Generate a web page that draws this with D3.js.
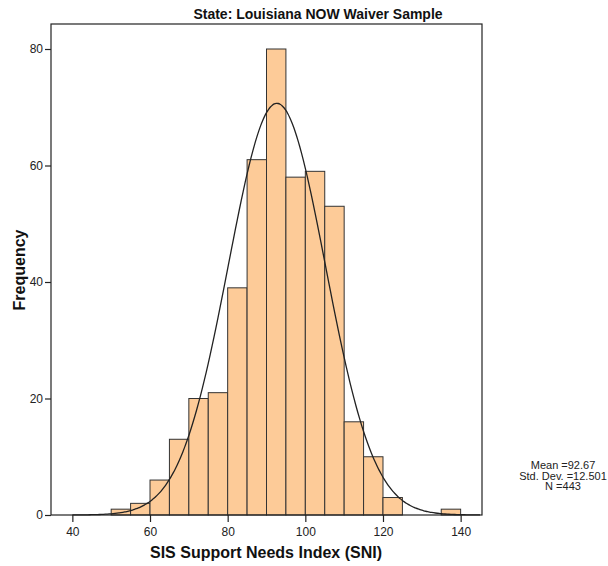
<!DOCTYPE html>
<html><head><meta charset="utf-8">
<script src="https://cdn.jsdelivr.net/npm/d3@7"></script>
<style>body{margin:0;background:#fff}svg{display:block}text{font-family:"Liberation Sans",Arial,sans-serif}</style>
</head><body>
<svg id="c" width="608" height="566"></svg>
<script>
const binStarts = [50,55,60,65,70,75,80,85,90,95,100,105,110,115,120,125,130,135];
const counts    = [1,2,6,13,20,21,39,61,80,58,59,53,16,10,3,0,0,1];
const binWidth = 5;
const xTicks = [40,60,80,100,120,140];
const yTicks = [0,20,40,60,80];
const stats = {mean:92.67, sd:12.501, n:443};
const statLines = ["Mean =92.67","Std. Dev. =12.501","N =443"];

const svg = d3.select("#c");
const L=51, R=482, T=24, B=515;
const x = d3.scaleLinear().domain([34.5,145.5]).range([L,R]);
const y = d3.scaleLinear().domain([0,80]).range([B,49]);

// bars
svg.append("g").selectAll("rect").data(binStarts.map((s,i)=>({s,c:counts[i]})).filter(d=>d.c>0))
 .join("rect")
 .attr("x",d=>x(d.s)).attr("width",d=>x(d.s+binWidth)-x(d.s))
 .attr("y",d=>y(d.c)).attr("height",d=>y(0)-y(d.c))
 .attr("fill","#fdcb98").attr("stroke","#333").attr("stroke-width",1);

// normal curve
const pdf = v => stats.n*binWidth/(stats.sd*Math.sqrt(2*Math.PI))*Math.exp(-0.5*((v-stats.mean)/stats.sd)**2);
const pts = d3.range(40,145.01,0.5).map(v=>[v,pdf(v)]);
svg.append("path").datum(pts)
 .attr("d",d3.line().x(d=>x(d[0])).y(d=>y(d[1])).curve(d3.curveBasis))
 .attr("fill","none").attr("stroke","#222").attr("stroke-width",1.3);

// frame
svg.append("rect").attr("x",L).attr("y",T).attr("width",R-L).attr("height",B-T)
 .attr("fill","none").attr("stroke","#222").attr("stroke-width",1.2);

// axes
const xa = svg.append("g").attr("transform",`translate(0,${B})`)
 .call(d3.axisBottom(x).tickValues(xTicks).tickSize(7).tickPadding(5));
const ya = svg.append("g").attr("transform",`translate(${L},0)`)
 .call(d3.axisLeft(y).tickValues(yTicks).tickSize(6).tickPadding(2));
[xa,ya].forEach(a=>{
  a.select(".domain").remove();
  a.selectAll("line").attr("stroke","#222").attr("stroke-width",1.2);
  a.selectAll("text").attr("font-size",12).attr("fill","#222").attr("font-family","Liberation Sans, Arial, sans-serif");
});

// titles
svg.append("text").attr("x",318).attr("y",19).attr("text-anchor","middle")
 .attr("font-size",14).attr("font-weight","bold").attr("fill","#111").text("State: Louisiana NOW Waiver Sample");
svg.append("text").attr("x",266).attr("y",558).attr("text-anchor","middle")
 .attr("font-size",16).attr("font-weight","bold").attr("fill","#111").text("SIS Support Needs Index (SNI)");
svg.append("text").attr("transform","translate(25,270) rotate(-90)").attr("text-anchor","middle")
 .attr("font-size",16).attr("font-weight","bold").attr("fill","#111").text("Frequency");

// stats
svg.append("g").selectAll("text").data(statLines).join("text")
 .attr("x",563).attr("y",(d,i)=>469+i*10.5).attr("text-anchor","middle")
 .attr("font-size",11).attr("fill","#222").text(d=>d);
</script>
</body></html>
